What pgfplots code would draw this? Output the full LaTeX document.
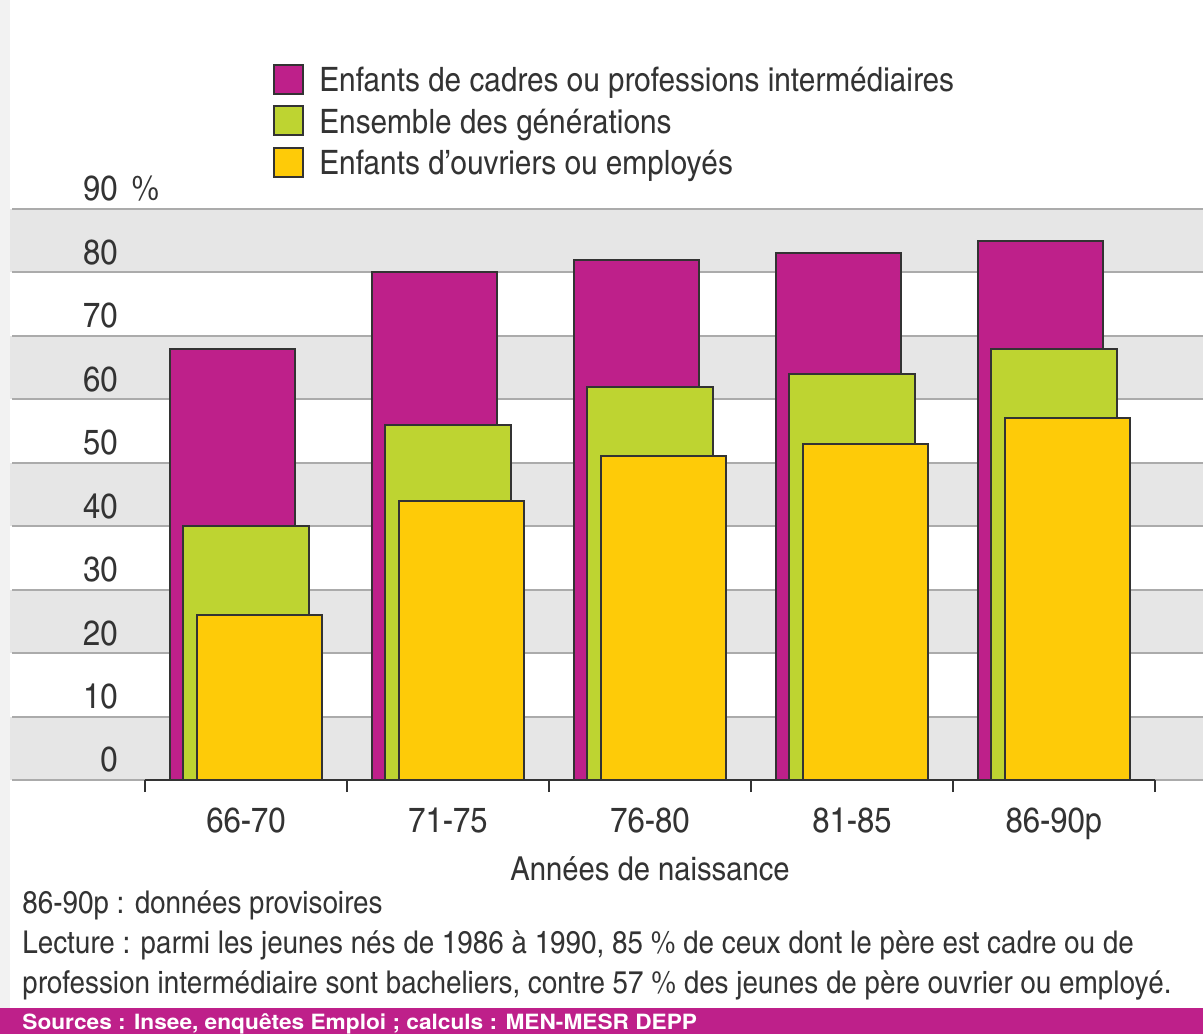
\documentclass[border=0pt]{standalone}
\usepackage{fontspec}
\setmainfont{texgyreheroscn-regular.otf}[BoldFont=texgyreheroscn-bold.otf, FakeStretch=1.08]
\newfontfamily\srcfont{texgyreheros-bold.otf}[FakeStretch=1.08]
\usepackage{pgfplots}
\pgfplotsset{compat=1.18}

\definecolor{cadre}{HTML}{BE208A}
\definecolor{ensemble}{HTML}{BED431}
\definecolor{ouvrier}{HTML}{FECB08}
\definecolor{band}{HTML}{E6E6E6}
\definecolor{txt}{HTML}{333333}

\pgfplotsset{
  sq legend/.style={legend image code/.code={\draw[##1, draw=txt, line width=1pt] (0pt,-6pt) rectangle (14.5pt,8.5pt);}},
}

\begin{document}
\begin{tikzpicture}[font=\fontsize{16.5}{20}\selectfont]
\fill[black!5] (0,0) rectangle (5pt,517pt);

\begin{axis}[
  set layers,
  at={(6pt,127pt)}, anchor=south west,
  scale only axis, width=595.5pt, height=285.5pt,
  xmin=-1.158, xmax=4.738, ymin=0, ymax=90,
  axis line style={draw=none},
  ytick={0,10,20,30,40,50,60,70,80,90},
  yticklabels={0,10,20,30,40,50,60,70,80,90\rlap{\hspace{7pt}\%}},
  ymajorgrids,
  major grid style={draw=black!33, line width=1pt},
  y tick style={draw=none},
  tick label style={font=\fontsize{17.5}{20}\selectfont},
  yticklabel style={anchor=south east, inner sep=0pt, xshift=59pt, yshift=3.5pt, text=txt},
  xtick={-0.5,0.5,1.5,2.5,3.5,4.5},
  xticklabels={},
  xtick pos=bottom,
  tick align=outside,
  major tick length=6pt,
  x tick style={draw=txt, line width=1pt},
  extra x ticks={0,1,2,3,4},
  extra x tick labels={66-70,71-75,76-80,81-85,86-90p},
  extra x tick style={major tick length=0pt, xticklabel style={anchor=north, inner sep=0pt, yshift=-13.5pt, text=txt}},
  xlabel={Années de naissance},
  xlabel style={at={(axis description cs:0.5357,0)}, anchor=base, inner sep=0pt, yshift=-50pt, text=txt},
  legend cell align=left,
  legend style={at={(axis description cs:0.2191,1.2544)}, anchor=north west, draw=none, fill=none,
    inner sep=0pt, row sep=3pt, column sep=7.5pt, font=\fontsize{16.8}{20}\selectfont,
    nodes={inner sep=0pt, text height=13.5pt, text depth=3.75pt, text=txt}},
]
\begin{pgfonlayer}{axis background}
\fill[band] (axis cs:-1.2,0) rectangle (axis cs:4.8,10);
\fill[band] (axis cs:-1.2,20) rectangle (axis cs:4.8,30);
\fill[band] (axis cs:-1.2,40) rectangle (axis cs:4.8,50);
\fill[band] (axis cs:-1.2,60) rectangle (axis cs:4.8,70);
\fill[band] (axis cs:-1.2,80) rectangle (axis cs:4.8,90);
\end{pgfonlayer}
\draw[txt, line width=1pt] (axis cs:-0.5,0) -- (axis cs:4.5,0);

\addplot[ybar, bar width=0.62, bar shift=-0.065, fill=cadre, draw=txt, line width=1pt, sq legend]
  coordinates {(0,68) (1,80) (2,82) (3,83) (4,85)};
\addlegendentry{Enfants de cadres ou professions intermédiaires}
\addplot[ybar, bar width=0.62, bar shift=0, fill=ensemble, draw=txt, line width=1pt, sq legend]
  coordinates {(0,40) (1,56) (2,62) (3,64) (4,68)};
\addlegendentry{Ensemble des générations}
\addplot[ybar, bar width=0.62, bar shift=0.067, fill=ouvrier, draw=txt, line width=1pt, sq legend]
  coordinates {(0,26) (1,44) (2,51) (3,53) (4,57)};
\addlegendentry{Enfants d'ouvriers ou employés}
\end{axis}

\begin{scope}[every node/.style={anchor=base west, inner sep=0pt, text=txt, font=\fontsize{15.7}{20}\selectfont}]
\node at (11pt,60.5pt) {86-90p : données provisoires};
\node at (11pt,40.5pt) {Lecture : parmi les jeunes nés de 1986 à 1990, 85 \% de ceux dont le père est cadre ou de};
\node at (11pt,20.5pt) {profession intermédiaire sont bacheliers, contre 57 \% des jeunes de père ouvrier ou employé.};
\end{scope}
\fill[cadre] (0,0) rectangle (601.5pt,13pt);
\node[anchor=base west, inner sep=0pt, text=white, font=\srcfont\fontsize{10.5}{12}\selectfont] at (11pt,2.5pt)
  {Sources : Insee, enquêtes Emploi ; calculs : MEN-MESR DEPP};
\pgfresetboundingbox
\useasboundingbox (0,0) rectangle (601.5pt,517pt);
\end{tikzpicture}
\end{document}
